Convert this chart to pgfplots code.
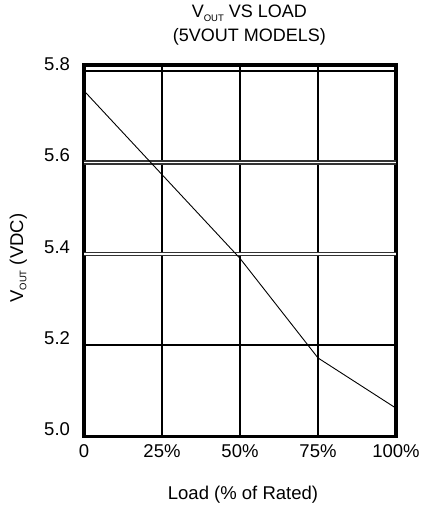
\documentclass[border=0pt]{standalone}
\usepackage{fontspec}
\setmainfont{Liberation Sans}
\usepackage{pgfplots}
\pgfplotsset{compat=1.18}
\newcommand{\sub}[1]{\raisebox{-3.3pt}{\fontsize{9.5}{9.5}\selectfont #1}}
\begin{document}
\begin{tikzpicture}
\useasboundingbox (-84pt,-71.5pt) rectangle (349pt,436.5pt);
\begin{axis}[
  at={(0pt,0pt)}, anchor=south west,
  scale only axis, width=312pt, height=371.5pt,
  xmin=0, xmax=100, ymin=5.0, ymax=5.8135,
  xtick={0,25,50,75,100},
  xticklabels={0,25\%,50\%,75\%,100\%},
  ytick={5.0,5.2,5.8},
  yticklabels={5.0,5.2,5.8},
  extra y ticks={5.4,5.6},
  extra y tick labels={5.4,5.6},
  extra y tick style={major grid style={black!80, line width=1.2pt, double=white, double distance=1.8pt}},
  grid=major,
  major grid style={black, line width=2.2pt},
  major tick length=0pt,
  axis line style={black, line width=3.5pt},
  tick label style={font=\fontsize{18.5}{21}\selectfont},
  yticklabel style={xshift=-10.5pt, yshift=7pt},
  xticklabel style={yshift=-4.5pt},
  title={V\sub{OUT} VS LOAD\\(5VOUT MODELS)},
  title style={at={(axis description cs:0.53,1)}, anchor=south, yshift=10pt, align=center, font=\fontsize{18}{24}\selectfont},
  xlabel={Load (\% of Rated)},
  xlabel style={at={(axis description cs:0.5096,-0.1709)}, anchor=base, font=\fontsize{18.5}{21}\selectfont},
  ylabel={V\sub{OUT} (VDC)},
  ylabel style={at={(axis description cs:-0.1955,0.48)}, anchor=base, font=\fontsize{18.5}{21}\selectfont},
  clip=false,
]
\addplot[black, line width=0.9pt] coordinates {(0,5.757) (50,5.39) (75,5.172) (100,5.062)};
\end{axis}
\end{tikzpicture}
\end{document}
